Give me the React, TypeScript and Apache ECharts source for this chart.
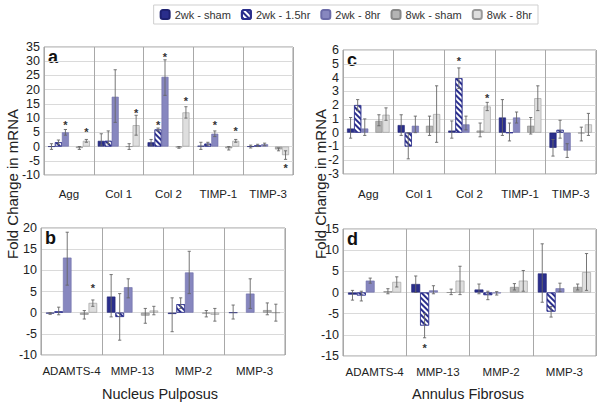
import React, { useEffect, useRef } from "react";
import * as echarts from "echarts";

const seriesNames = ["2wk - sham", "2wk - 1.5hr", "2wk - 8hr", "8wk - sham", "8wk - 8hr"];
const catsTop = ["Agg", "Col 1", "Col 2", "TIMP-1", "TIMP-3"];
const catsBottom = ["ADAMTS-4", "MMP-13", "MMP-2", "MMP-3"];

// Panel a — Nucleus Pulposus, matrix genes
const aValues = [
  [0, 2, 1.5, 0.3, 0],
  [1.5, 2, 6, 1, 0.4],
  [5, 17.5, 24.5, 4.5, 0.8],
  [-0.5, 0, -0.3, -0.6, -1],
  [2, 7.5, 12, 2, -3],
];
const aLow = [
  [-1, 0.5, 0.5, -1, -0.5],
  [0.8, 1, 5.5, 0.5, 0],
  [4, 8.5, 18, 3.5, 0.3],
  [-1, -1, -0.6, -1.2, -1.5],
  [1.5, 4, 10, 1.5, -4.5],
];
const aHigh = [
  [1, 4.5, 2.5, 1.5, 0.5],
  [2.3, 5.5, 6.5, 1.5, 0.8],
  [6, 27, 30.5, 5.5, 1.2],
  [0, 1, 0, 0, -0.5],
  [2.5, 11, 14, 2.5, -1.5],
];
const aStars = [
  [2, 0, 8.5], [2, 2, 32.5], [2, 3, 8.5], [1, 2, 8.5],
  [4, 0, 6], [4, 1, 13], [4, 2, 17], [4, 3, 6.5], [4, 4, -6.5],
];

// Panel b — Nucleus Pulposus, proteases
const bValues = [
  [-0.2, 3.8, -0.3, 0],
  [0.3, -1, 2, null],
  [13, 6, 9.5, 4.5],
  [-0.5, -0.7, -0.2, 0.6],
  [2.3, 0.5, -0.5, 0],
];
const bLow = [
  [-0.4, -1, -4.5, -1.5],
  [-0.5, -6.5, 1, null],
  [6.5, 3.5, 4.5, 1],
  [-1.5, -2.5, -1, -0.5],
  [1.5, -0.5, -2, -2],
];
const bHigh = [
  [0, 9, 3.5, 1.8],
  [1.3, 4.5, 3.5, null],
  [19, 8, 14.5, 8],
  [0.5, 1, 0.5, 2.3],
  [3, 1.5, 1, 2],
];
const bStars = [[4, 0, 6.5]];

// Panel c — Annulus Fibrosus, matrix genes
const cValues = [
  [0.3, 0.55, 0.15, 1.1, -1.1],
  [2, -1, 3.95, 0, 0.2],
  [0.3, 0.5, 0.6, 1.1, -1.3],
  [0.85, 0.5, 0.15, 0.5, -0.05],
  [1.3, 1.35, 1.9, 2.5, 0.6],
];
const cLow = [
  [-0.4, -0.2, -0.4, -0.2, -1.7],
  [1.6, -1.9, 3.2, -0.6, -0.4],
  [-0.2, 0, 0.2, 0.7, -1.8],
  [0.5, -0.2, -0.3, -0.1, -0.6],
  [0.9, -0.7, 1.6, 1.6, -0.2],
];
const cHigh = [
  [1.1, 1.3, 0.85, 2.4, -0.5],
  [2.4, 0, 4.7, 0.7, 0.9],
  [1, 1.2, 1.2, 1.5, -0.8],
  [1.3, 1.2, 0.7, 1.1, 0.4],
  [1.8, 3.4, 2.2, 3.4, 1.4],
];
const cStars = [[1, 2, 5.4], [4, 2, 2.7]];

// Panel d — Annulus Fibrosus, proteases
const dValues = [
  [-0.5, 2, 0.7, 4.5],
  [-0.7, -7.8, -0.6, -4.5],
  [2.8, 0.5, -0.2, 1],
  [0.3, 0, 1.3, 1.3],
  [2.5, 2.8, 2.8, 4.8],
];
const dLow = [
  [-1.8, 0, -0.3, -2.3],
  [-2, -10.7, -1.7, -5.8],
  [2.2, -0.3, -0.6, 0.2],
  [-0.3, -0.5, 0.6, 0.6],
  [1.3, -0.5, 0.3, 0.5],
];
const dHigh = [
  [0.5, 3.9, 2, 11.5],
  [0.3, -5, 0.3, -3.3],
  [3.4, 1.6, 0.2, 2.2],
  [0.9, 0.8, 2.1, 2],
  [3.7, 6.2, 5.2, 9.2],
];
const dStars = [[1, 1, -12.5]];

const yMin = [-10, -10, -3, -15];
const yMax = [35, 20, 6, 15];
const yStep = [5, 5, 1, 5];

const panels = [
  { letter: "a", cats: catsTop, vals: aValues, lo: aLow, hi: aHigh, stars: aStars, grid: { left: 44, top: 47, width: 249, height: 128 }, margin: 13 },
  { letter: "b", cats: catsBottom, vals: bValues, lo: bLow, hi: bHigh, stars: bStars, grid: { left: 41, top: 228, width: 244, height: 127 }, margin: 10 },
  { letter: "c", cats: catsTop, vals: cValues, lo: cLow, hi: cHigh, stars: cStars, grid: { left: 343, top: 50, width: 253, height: 124 }, margin: 14 },
  { letter: "d", cats: catsBottom, vals: dValues, lo: dLow, hi: dHigh, stars: dStars, grid: { left: 343, top: 229, width: 253, height: 127 }, margin: 10 },
];

const GAP = 0.16;
const SLOTS = 6;
const slotOf = [0, 1, 2, 4, 5];

const barStyles: any[] = [
  { color: "#2a2e8c", borderColor: "#1e2170", borderWidth: 0.6 },
  {
    color: "#ffffff",
    borderColor: "#2a2e8c",
    borderWidth: 0.6,
    decal: { symbol: "rect", symbolSize: 1, dashArrayX: [1, 0], dashArrayY: [2, 2], rotation: Math.PI / 4, color: "#2a2e8c" },
  },
  { color: "#8787bf", borderColor: "#6b6ba8", borderWidth: 0.6 },
  { color: "#b4b4b4", borderColor: "#888888", borderWidth: 0.6 },
  { color: "#dedede", borderColor: "#999999", borderWidth: 0.6 },
];

function slotX(api: any, c: number, slot: number) {
  const band = api.size([1, 0])[0];
  const usable = band * (1 - GAP);
  const bw = usable / SLOTS;
  const cx = api.coord([c, 0])[0];
  return cx - usable / 2 + (slot + 0.5) * bw;
}

export default function App() {
  const ref = useRef<HTMLDivElement>(null);
  useEffect(() => {
    if (!ref.current) return;
    const chart = echarts.init(ref.current, undefined, { renderer: "svg" });
    const grids: any[] = [];
    const xAxes: any[] = [];
    const yAxes: any[] = [];
    const series: any[] = [];
    const graphics: any[] = [];
    panels.forEach((p, gi) => {
      grids.push({ ...p.grid, show: true, borderColor: "#9a9a9a", borderWidth: 1, backgroundColor: "#fff" });
      xAxes.push({
        type: "category",
        gridIndex: gi,
        data: p.cats,
        position: "bottom",
        axisLine: { show: false },
        axisTick: { show: false },
        axisLabel: { interval: 0, fontSize: 11.5, color: "#222", margin: p.margin, fontFamily: "Liberation Sans, Arial, sans-serif" },
        splitLine: { show: true, interval: 0, lineStyle: { color: "#a8a8a8", width: 1 } },
      });
      yAxes.push({
        type: "value",
        gridIndex: gi,
        min: yMin[gi],
        max: yMax[gi],
        interval: yStep[gi],
        axisLine: { show: false },
        axisTick: { show: false },
        axisLabel: { fontSize: 12.5, color: "#222", margin: 4, fontFamily: "Liberation Sans, Arial, sans-serif" },
        splitLine: { show: true, lineStyle: { color: "#dadada", width: 1 } },
      });
      for (let s = 0; s < 5; s++) {
        if (s === 3) {
          series.push({
            type: "bar",
            name: "_spacer",
            xAxisIndex: gi,
            yAxisIndex: gi,
            data: p.cats.map(() => null),
            barGap: 0,
            barCategoryGap: GAP * 100 + "%",
          });
        }
        series.push({
          type: "bar",
          name: seriesNames[s],
          xAxisIndex: gi,
          yAxisIndex: gi,
          data: p.vals[s],
          barGap: 0,
          barCategoryGap: GAP * 100 + "%",
          itemStyle: barStyles[s],
          silent: true,
        });
      }
      const errData: any[] = [];
      for (let s = 0; s < 5; s++) {
        p.cats.forEach((_, c) => {
          const lo = p.lo[s][c];
          const hi = p.hi[s][c];
          if (lo != null && hi != null) errData.push([c, lo, hi, slotOf[s]]);
        });
      }
      series.push({
        type: "custom",
        name: "_err",
        xAxisIndex: gi,
        yAxisIndex: gi,
        z: 10,
        silent: true,
        data: errData,
        encode: { x: 0, y: [1, 2] },
        renderItem: (params: any, api: any) => {
          const c = api.value(0);
          const x = slotX(api, c, api.value(3));
          const y1 = api.coord([c, api.value(1)])[1];
          const y2 = api.coord([c, api.value(2)])[1];
          const cap = 1.6;
          const st = { stroke: "#666", lineWidth: 0.9 };
          return {
            type: "group",
            children: [
              { type: "line", shape: { x1: x, y1, x2: x, y2 }, style: st },
              { type: "line", shape: { x1: x - cap, y1, x2: x + cap, y2: y1 }, style: st },
              { type: "line", shape: { x1: x - cap, y1: y2, x2: x + cap, y2 }, style: st },
            ],
          };
        },
      });
      series.push({
        type: "custom",
        name: "_star",
        xAxisIndex: gi,
        yAxisIndex: gi,
        z: 11,
        silent: true,
        data: p.stars.map((st) => [st[1], st[2], slotOf[st[0]]]),
        encode: { x: 0, y: 1 },
        renderItem: (params: any, api: any) => {
          const c = api.value(0);
          const x = slotX(api, c, api.value(2));
          const y = api.coord([c, api.value(1)])[1];
          return {
            type: "text",
            x,
            y: y + 3,
            style: { text: "*", fill: "#333", font: "bold 11px Liberation Sans, Arial, sans-serif", align: "center", verticalAlign: "middle" },
          };
        },
      });
      graphics.push({
        type: "text",
        left: p.grid.left + 4,
        top: p.grid.top + 1,
        style: { text: p.letter, fill: "#111", font: "bold 18px Liberation Sans, Arial, sans-serif" },
      });
    });
    graphics.push(
      {
        type: "text",
        x: 12,
        y: 184,
        rotation: Math.PI / 2,
        style: { text: "Fold Change in mRNA", fill: "#222", font: "15px Liberation Sans, Arial, sans-serif", align: "center", verticalAlign: "middle" },
      },
      {
        type: "text",
        x: 320,
        y: 184,
        rotation: Math.PI / 2,
        style: { text: "Fold Change in mRNA", fill: "#222", font: "15px Liberation Sans, Arial, sans-serif", align: "center", verticalAlign: "middle" },
      },
      {
        type: "text",
        x: 160,
        y: 394,
        style: { text: "Nucleus Pulposus", fill: "#222", font: "14.5px Liberation Sans, Arial, sans-serif", align: "center", verticalAlign: "middle" },
      },
      {
        type: "text",
        x: 468,
        y: 394,
        style: { text: "Annulus Fibrosus", fill: "#222", font: "14.5px Liberation Sans, Arial, sans-serif", align: "center", verticalAlign: "middle" },
      }
    );
    chart.setOption({
      animation: false,
      backgroundColor: "#fff",
      legend: {
        data: seriesNames,
        top: 5,
        right: 62,
        width: 500,
        itemWidth: 9,
        itemHeight: 9,
        itemGap: 10,
        padding: [4, 6],
        borderColor: "#cfcfcf",
        borderWidth: 1,
        selectedMode: false,
        textStyle: { fontSize: 11, color: "#333", fontFamily: "Liberation Sans, Arial, sans-serif" },
      },
      grid: grids,
      xAxis: xAxes,
      yAxis: yAxes,
      series,
      graphic: graphics,
    });
    return () => chart.dispose();
  }, []);
  return <div ref={ref} style={{ position: "fixed", left: 0, top: 0, width: 600, height: 406, background: "#fff" }} />;
}
